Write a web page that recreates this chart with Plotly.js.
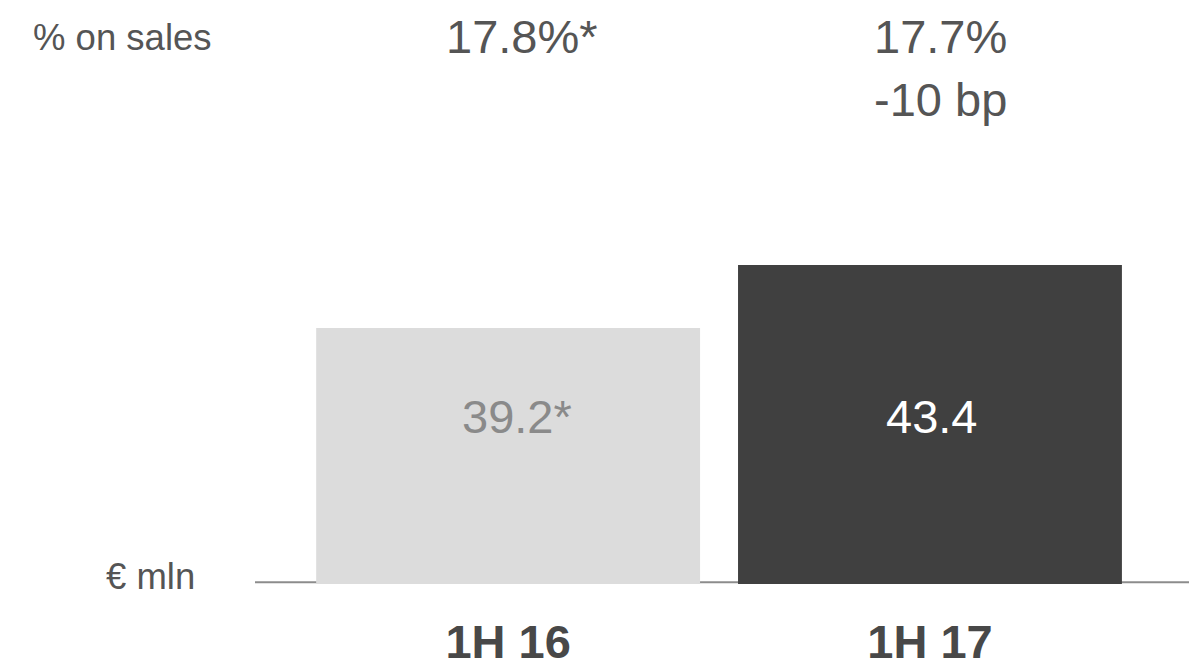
<!DOCTYPE html>
<html>
<head>
<meta charset="utf-8">
<script src="https://cdn.plot.ly/plotly-3.0.1.min.js"></script>
<style>html,body{margin:0;padding:0;background:#fff;}#chart{width:1189px;height:670px;}</style>
</head>
<body>
<div id="chart"></div>
<script>
const categories = ['1H 16', '1H 17'];
const values = [39.2, 43.4];
const valueLabels = ['39.2*', '43.4'];
const marginLabels = ['17.8%*', '17.7%'];
const changeLabel = '-10 bp';

const barColors = ['#dcdcdc', '#404040'];
const labelColors = ['#8a8a8a', '#ffffff'];
const FONT = 'Liberation Sans, Arial, sans-serif';
const yMin = 22.13, yMax = 61.06;

const annotations = [
  {xref:'paper', yref:'paper', x:-0.142, y:0.936, text:'% on sales', showarrow:false, xanchor:'center', yanchor:'middle', font:{family:FONT, size:36.5, color:'#555555'}},
  {xref:'paper', yref:'paper', x:-0.112, y:0.012, text:'€ mln', showarrow:false, xanchor:'center', yanchor:'middle', font:{family:FONT, size:36.5, color:'#555555'}},
  {xref:'x', yref:'paper', x:categories[0], xshift:14, y:0.937, text:marginLabels[0], showarrow:false, xanchor:'center', yanchor:'middle', font:{family:FONT, size:47, color:'#555555'}},
  {xref:'x', yref:'paper', x:categories[1], xshift:11, y:0.937, text:marginLabels[1], showarrow:false, xanchor:'center', yanchor:'middle', font:{family:FONT, size:47, color:'#555555'}},
  {xref:'x', yref:'paper', x:categories[1], xshift:11, y:0.829, text:changeLabel, showarrow:false, xanchor:'center', yanchor:'middle', font:{family:FONT, size:47, color:'#555555'}}
];
categories.forEach((c, i) => {
  annotations.push({xref:'x', yref:'paper', x:c, xshift:(i === 0 ? 9 : 2), y:0.287, text:valueLabels[i], showarrow:false, xanchor:'center', yanchor:'middle', font:{family:FONT, size:47, color:labelColors[i]}});
});

const trace = {
  type:'bar', x:categories, y:values, width:0.91,
  marker:{color:barColors}, hoverinfo:'skip'
};

const layout = {
  width:1189, height:670,
  margin:{l:255, r:0, t:0, b:86},
  paper_bgcolor:'#ffffff', plot_bgcolor:'#ffffff',
  showlegend:false,
  xaxis:{type:'category', range:[-0.6, 1.614], showgrid:false, zeroline:false, showline:false, ticks:'', ticklabelstandoff:26,
         tickfont:{family:FONT, size:47, color:'#484848', weight:'bold'}, fixedrange:true},
  yaxis:{range:[yMin, yMax], showgrid:false, zeroline:false, showline:false, showticklabels:false, ticks:'', fixedrange:true},
  shapes:[{type:'line', xref:'paper', yref:'paper', x0:0, x1:1, y0:0.003, y1:0.003, layer:'below', line:{color:'#8c8c8c', width:2}}],
  annotations:annotations
};

Plotly.newPlot('chart', [trace], layout, {displayModeBar:false, staticPlot:true});
</script>
</body>
</html>
